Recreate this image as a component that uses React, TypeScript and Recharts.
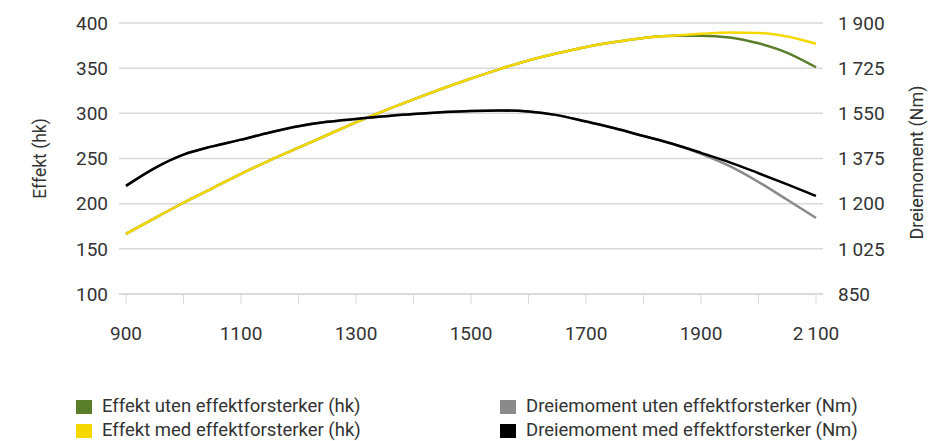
import React from 'react';
import { LineChart, Line, XAxis, YAxis, CartesianGrid } from 'recharts';

const rpm = [900, 950, 1000, 1050, 1100, 1150, 1200, 1250, 1300, 1400, 1500, 1550, 1600, 1650, 1700, 1750, 1800, 1850, 1900, 1950, 2000, 2050, 2100];
const effektUten = [166.5, 184, 201, 217, 233, 248, 262, 276, 290, 315.5, 338.5, 349, 358.5, 366.5, 373.5, 379, 383.5, 386, 386, 384, 377.5, 367, 351];
const effektMed = [166.5, 184, 201, 217, 233, 248, 262, 276, 290, 315.5, 338.5, 349, 358.5, 366.5, 373.5, 379, 383.5, 386, 388, 389.5, 389, 385, 377];
const momentUten = [1269, 1338, 1390, 1422, 1448, 1476, 1500, 1517, 1528, 1547, 1559, 1561, 1557, 1543, 1518, 1492, 1462, 1432, 1393, 1345, 1284, 1215, 1145];
const momentMed = [1269, 1338, 1390, 1422, 1448, 1476, 1500, 1517, 1528, 1547, 1559, 1561, 1557, 1543, 1518, 1492, 1462, 1432, 1397, 1360, 1318, 1275, 1230];

const xTicks = [900, 1000, 1100, 1200, 1300, 1400, 1500, 1600, 1700, 1800, 1900, 2000, 2100];
const xTickLabels = ['900', '', '1100', '', '1300', '', '1500', '', '1700', '', '1900', '', '2\u2009100'];
const leftTicks = [100, 150, 200, 250, 300, 350, 400];
const rightTicks = [850, 1025, 1200, 1375, 1550, 1725, 1900];
const rightTickLabels = ['850', '1\u2009025', '1\u2009200', '1\u2009375', '1\u2009550', '1\u2009725', '1\u2009900'];

const seriesNames = [
  'Effekt uten effektforsterker (hk)',
  'Effekt med effektforsterker (hk)',
  'Dreiemoment uten effektforsterker (Nm)',
  'Dreiemoment med effektforsterker (Nm)',
];
const seriesKeys = ['effektUten', 'effektMed', 'momentUten', 'momentMed'];
const seriesColors = ['#5a7d2a', '#f5d800', '#8a8a8a', '#000000'];
const seriesAxis = ['left', 'left', 'right', 'right'];

const data = rpm.map((r, i) => ({
  rpm: r,
  effektUten: effektUten[i],
  effektMed: effektMed[i],
  momentUten: momentUten[i],
  momentMed: momentMed[i],
}));

const FONT = 'Roboto, "Open Sans", sans-serif';
const TEXT = '#333333';
const GRID = '#d9d9d9';

export default function App() {
  return (
    <div style={{ position: 'absolute', left: 0, top: 0, width: 932, height: 441, fontFamily: FONT, background: '#fff', overflow: 'hidden' }}>
      <style>{'body{margin:0}'}</style>
      <LineChart width={932} height={441} data={data} margin={{ top: 23, right: 0, bottom: 87, left: 0 }}>
        <CartesianGrid yAxisId="left" vertical={false} stroke={GRID} strokeWidth={1.5} />
        <XAxis
          dataKey="rpm"
          type="number"
          domain={[900, 2100]}
          ticks={xTicks}
          padding={{ left: 7, right: 7 }}
          height={60}
          stroke={GRID}
          tickSize={10}
          tickMargin={23}
          tickLine={{ stroke: GRID }}
          axisLine={{ stroke: GRID, strokeWidth: 1.5 }}
          tick={{ fill: TEXT, fontSize: 19, fontFamily: FONT }}
          tickFormatter={(v: number) => xTickLabels[xTicks.indexOf(v)] ?? ''}
        />
        <YAxis
          yAxisId="left"
          orientation="left"
          domain={[100, 400]}
          ticks={leftTicks}
          width={119}
          axisLine={false}
          tickLine={false}
          tickMargin={5}
          tick={{ fill: TEXT, fontSize: 19, fontFamily: FONT }}
          label={{ value: 'Effekt (hk)', angle: -90, position: 'center', dx: -20, fill: TEXT, fontSize: 17.5, fontFamily: FONT }}
        />
        <YAxis
          yAxisId="right"
          orientation="right"
          domain={[850, 1900]}
          ticks={rightTicks}
          width={109}
          axisLine={false}
          tickLine={false}
          tickMargin={9}
          tick={{ fill: TEXT, fontSize: 19, fontFamily: FONT, textAnchor: 'start' }}
          tickFormatter={(v: number) => rightTickLabels[rightTicks.indexOf(v)] ?? String(v)}
          label={{ value: 'Dreiemoment (Nm)', angle: -90, position: 'center', dx: 39, dy: 4, fill: TEXT, fontSize: 18, fontFamily: FONT }}
        />
        {seriesKeys.map((k, i) => (
          <Line
            key={k}
            yAxisId={seriesAxis[i]}
            dataKey={k}
            name={seriesNames[i]}
            type="monotone"
            stroke={seriesColors[i]}
            strokeWidth={2.5}
            dot={false}
            activeDot={false}
            isAnimationActive={false}
          />
        ))}
      </LineChart>
      {seriesNames.map((n, i) => {
        const col = i < 2 ? 0 : 1;
        const row = i % 2;
        return (
          <div
            key={n}
            style={{
              position: 'absolute',
              left: col === 0 ? 76 : 500,
              top: 397 + row * 24,
              display: 'flex',
              alignItems: 'center',
              height: 19,
              lineHeight: '19px',
              fontSize: 18.5,
              color: TEXT,
              whiteSpace: 'nowrap',
            }}
          >
            <span style={{ display: 'inline-block', width: 16, height: 14, background: seriesColors[i], marginRight: 10 }} />
            <span style={{ lineHeight: '19px' }}>{n}</span>
          </div>
        );
      })}
    </div>
  );
}
